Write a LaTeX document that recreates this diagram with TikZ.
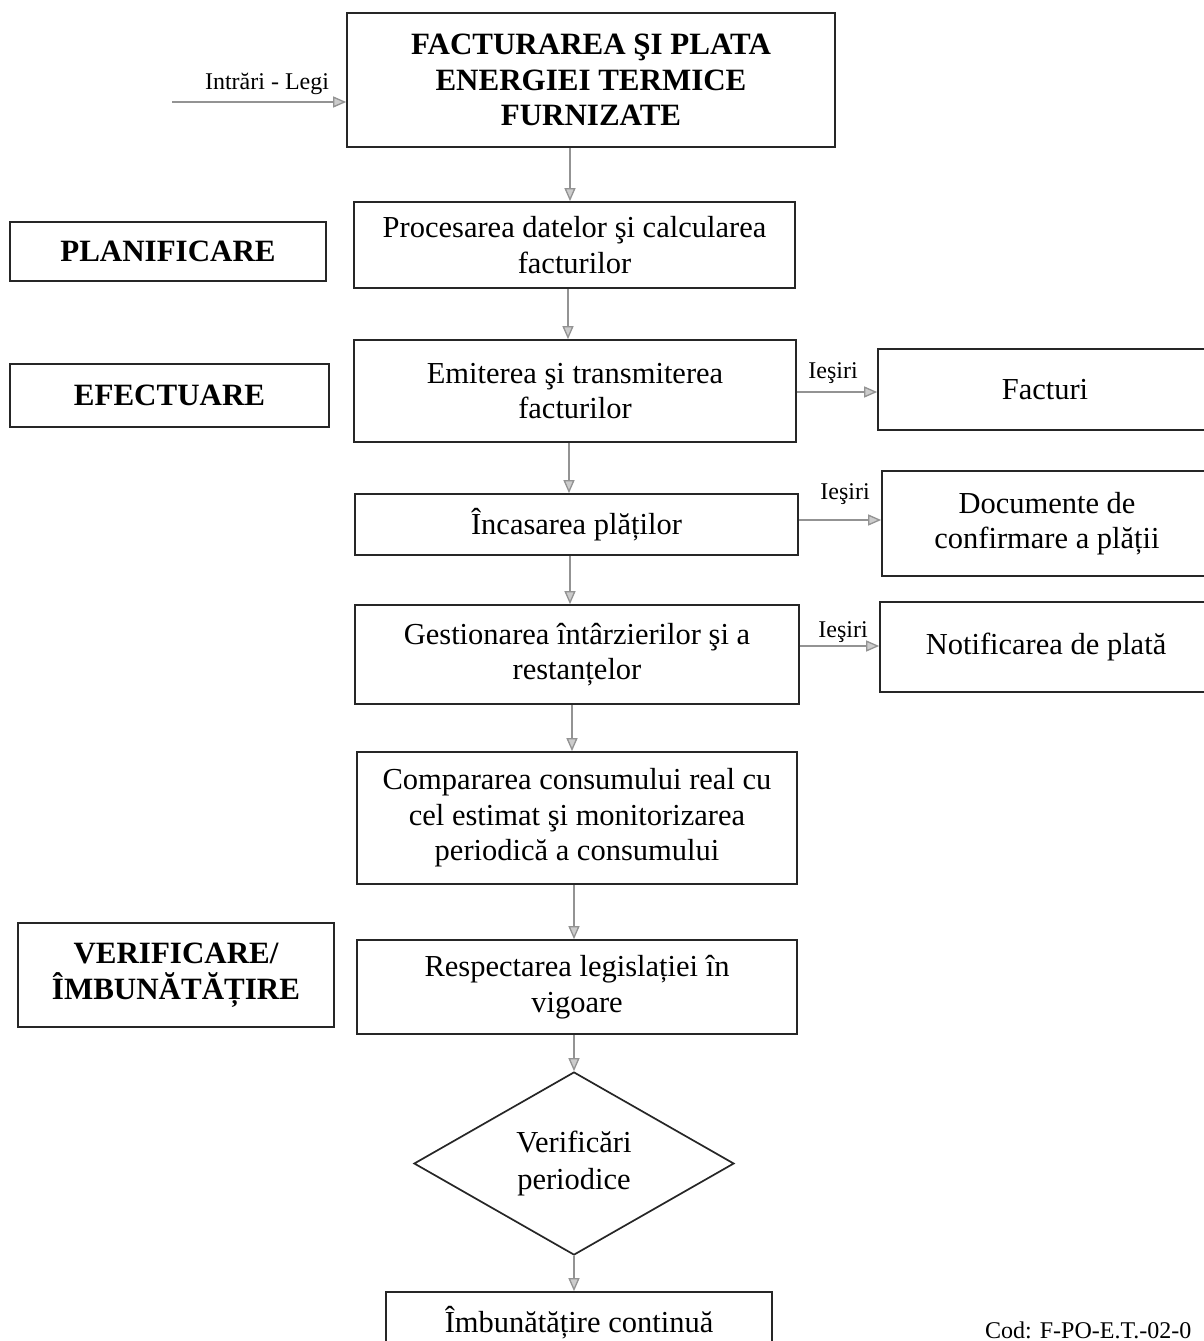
\documentclass[tikz,border=0pt]{standalone}
\usepackage{fontspec}
\setmainfont{Liberation Serif}
\usetikzlibrary{shapes.geometric,arrows.meta}
\tikzset{
  box/.style={draw=black!85,line width=1.7pt,rectangle,inner sep=0pt,align=center,
              font=\fontsize{30.5}{35.5}\selectfont},
  headbox/.style={box,font=\bfseries\fontsize{31}{35.5}\selectfont},
  arr/.style={draw=gray!85,line width=1.3pt,-{Triangle[length=13pt,width=11pt,fill=gray!40]}},
  lbl/.style={inner sep=0pt,font=\fontsize{24}{28}\selectfont}
}
\begin{document}
\begin{tikzpicture}[x=1pt,y=-1pt]
\useasboundingbox[fill=white] (0,0) rectangle (1203,1341);
% main column
\node[headbox,minimum width=488pt,minimum height=134pt] (top) at (591,80)
  {FACTURAREA ŞI PLATA\\ENERGIEI TERMICE\\FURNIZATE};
\node[box,minimum width=441pt,minimum height=86pt] (b2) at (574.5,245)
  {Procesarea datelor şi calcularea\\facturilor};
\node[box,minimum width=442pt,minimum height=102pt] (b3) at (575,391)
  {Emiterea şi transmiterea\\facturilor};
\node[box,minimum width=443pt,minimum height=61pt] (b4) at (576.5,524.5)
  {Încasarea plăților};
\node[box,minimum width=444pt,minimum height=99pt] (b5) at (577,654.5)
  {Gestionarea întârzierilor şi a\\restanțelor};
\node[box,minimum width=440pt,minimum height=132pt] (b6) at (577,818)
  {Compararea consumului real cu\\cel estimat şi monitorizarea\\periodică a consumului};
\node[box,minimum width=440pt,minimum height=94pt] (b7) at (577,987)
  {Respectarea legislației în\\vigoare};
\node[box,diamond,minimum width=320pt,minimum height=183pt,
      font=\fontsize{30.5}{37}\selectfont] (d) at (574,1163.5)
  {Verificări\\periodice};
\node[box,minimum width=386pt,minimum height=62pt] (bot) at (579,1323)
  {Îmbunătățire continuă};
% left phase boxes
\node[headbox,minimum width=316pt,minimum height=59pt] (plan) at (168,251.5) {PLANIFICARE};
\node[headbox,minimum width=319pt,minimum height=63pt] (efec) at (169.5,395.5) {EFECTUARE};
\node[headbox,minimum width=316pt,minimum height=104pt] (verif) at (176,975)
  {VERIFICARE/\\ÎMBUNĂTĂȚIRE};
% right output boxes
\node[box,minimum width=334pt,minimum height=81pt] (fact) at (1045,389.5) {Facturi};
\node[box,minimum width=330pt,minimum height=105pt] (docs) at (1047,523.5)
  {Documente de\\confirmare a plății};
\node[box,minimum width=332pt,minimum height=90pt] (notif) at (1046,647) {Notificarea de plată};
% input
\coordinate (in1) at (172,102);
\node[lbl] (intr) at (267,84) {Intrări - Legi};
\draw[arr] (in1) -- (in1 -| top.west);
% vertical arrows
\draw[arr] ([xshift=-21pt]top.south) -- ([xshift=-21pt]top.south |- b2.north);
\draw[arr] ([xshift=-6.5pt]b2.south) -- ([xshift=-6.5pt]b2.south |- b3.north);
\draw[arr] ([xshift=-6pt]b3.south) -- ([xshift=-6pt]b3.south |- b4.north);
\draw[arr] ([xshift=-6.5pt]b4.south) -- ([xshift=-6.5pt]b4.south |- b5.north);
\draw[arr] ([xshift=-5pt]b5.south) -- ([xshift=-5pt]b5.south |- b6.north);
\draw[arr] ([xshift=-3pt]b6.south) -- ([xshift=-3pt]b6.south |- b7.north);
\draw[arr] (d.north |- b7.south) -- (d.north);
\draw[arr] (d.south) -- (d.south |- bot.north);
% outputs
\draw[arr] ([yshift=-1pt]b3.east) -- ([yshift=-1pt]b3.east -| fact.west);
\node[lbl] (l1) at (833,373) {Ieşiri};
\draw[arr] ([yshift=4.5pt]b4.east) -- ([yshift=4.5pt]b4.east -| docs.west);
\node[lbl] (l2) at (845,494) {Ieşiri};
\draw[arr] ([yshift=8.5pt]b5.east) -- ([yshift=8.5pt]b5.east -| notif.west);
\node[lbl] (l3) at (843,632) {Ieşiri};
% code
\node[lbl,anchor=base west] (cod) at (985,1338) {Cod: F-PO-E.T.-02-0};
\end{tikzpicture}
\end{document}
